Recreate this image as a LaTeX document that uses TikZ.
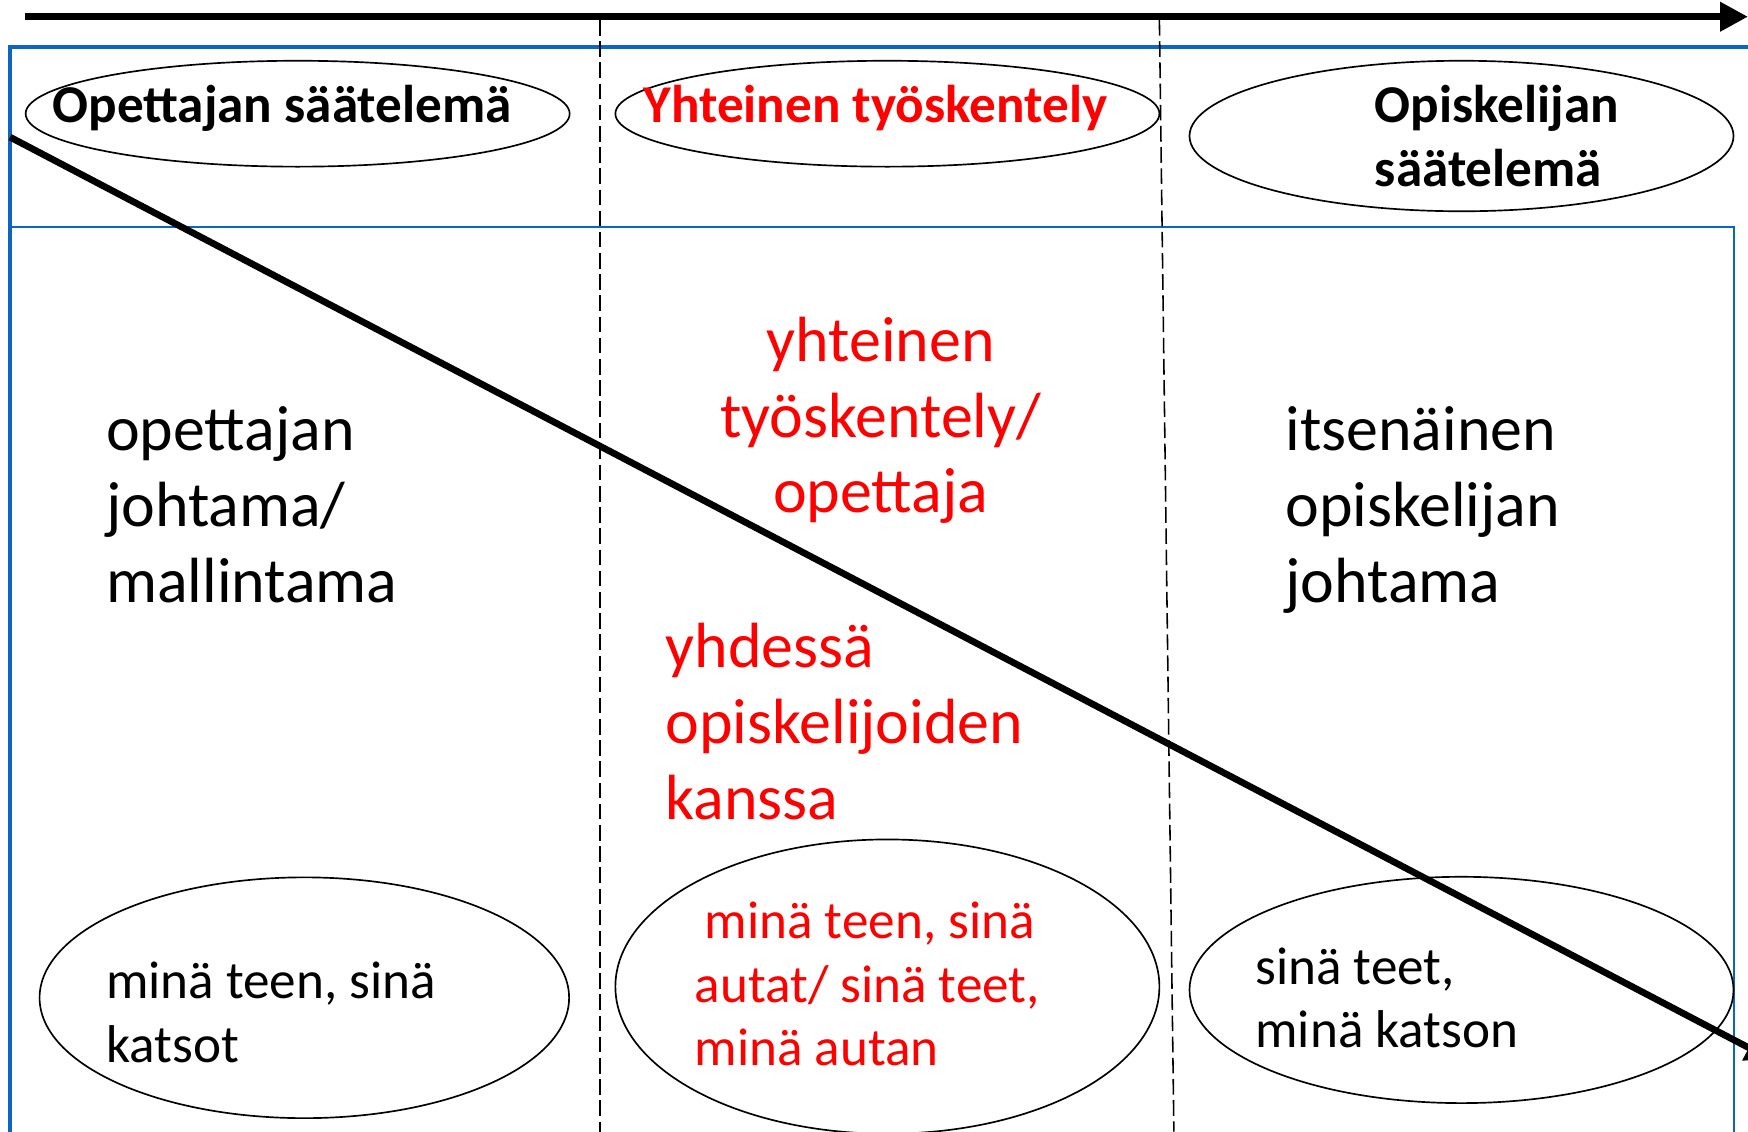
\documentclass[tikz,border=0pt]{standalone}
\usepackage{fontspec}
\setmainfont{Carlito}
\usetikzlibrary{shapes.geometric,arrows.meta}
\definecolor{frameblue}{RGB}{12,100,196}
\definecolor{txtred}{RGB}{255,0,0}
\tikzset{
  oval/.style={draw=black, line width=1.5pt, ellipse, inner sep=0pt},
  bigtxt/.style={font=\fontsize{57.3}{68}\selectfont, inner sep=0pt, align=left, anchor=base west},
  smalltxt/.style={font=\fontsize{47.7}{57}\selectfont, inner sep=0pt, align=left, anchor=base west},
  headtxt/.style={font=\fontsize{47.7}{57}\selectfont\bfseries, inner sep=0pt, align=left, anchor=base west},
  divider/.style={line width=1.4pt, dash pattern=on 14pt off 5pt},
  bluethick/.style={draw=frameblue, line width=3.6pt},
  bluethin/.style={draw=frameblue, line width=1.8pt},
}
\begin{document}
\begin{tikzpicture}[x=1pt,y=-1pt]
\clip (0,0) rectangle (1568,1015);
\fill[white] (0,0) rectangle (1568,1015);

% frame
\coordinate (ftr) at (1580,42);
\coordinate (ftl) at (9,42);
\coordinate (fbl) at (9,1030);
\draw[bluethick] (ftr) -- (ftl) -- (fbl);
\coordinate (hl) at (9,204);
\coordinate (hr) at (1555,204);
\coordinate (hb) at (1555,1030);
\draw[bluethin] (hl) -- (hr) -- (hb);

% dividers
\coordinate (d1t) at (538,18);
\coordinate (d1b) at (538,1015);
\coordinate (d2t) at (1040,18);
\coordinate (d2b) at (1053,1015);
\draw[divider] (d1t) -- (d1b);
\draw[divider] (d2t) -- (d2b);

% top arrow
\coordinate (as) at (22,15);
\coordinate (ae) at (1568,15);
\draw[line width=6.6pt, -{Triangle[length=25pt,width=25pt]}] (as) -- (ae);

% ellipses
\node[oval, minimum width=488pt, minimum height=95pt] (e1) at (267,102) {};
\node[oval, minimum width=488pt, minimum height=95pt] (e2) at (796,102) {};
\node[oval, minimum width=488pt, minimum height=135pt] (e3) at (1311,122) {};
\node[oval, minimum width=475pt, minimum height=216pt] (b1) at (273,895) {};
\node[oval, minimum width=488pt, minimum height=264pt] (b2) at (796,885) {};
\node[oval, minimum width=488pt, minimum height=203pt] (b3) at (1311,888) {};

% diagonal
\coordinate (ds) at (9,123);
\coordinate (de) at (1590,951);
\draw[line width=6pt, -{Triangle[length=24pt,width=24pt]}] (ds) -- (de);

% header texts
\node[headtxt] (h1) at (47,110) {Opettajan säätelemä};
\node[headtxt, text=txtred] (h2) at (577,110) {Yhteinen työskentely};
\node[headtxt] (h3) at (1233,167) {Opiskelijan\\säätelemä};

% main texts
\node[bigtxt] (t1) at (95,540) {opettajan\\johtama/\\mallintama};
\node[bigtxt, text=txtred, align=center, anchor=base] (t2) at (790,460) {yhteinen\\työskentely/\\opettaja};
\node[bigtxt] (t3) at (1153,540) {itsenäinen\\opiskelijan\\johtama};
\node[bigtxt, text=txtred] (t4) at (597,735) {yhdessä\\opiskelijoiden\\kanssa};

% bottom texts
\node[smalltxt] (s1) at (95,953) {minä teen, sinä\\katsot};
\node[smalltxt, text=txtred] (s2) at (623,956) {\hspace*{9pt}minä teen, sinä\\autat/ sinä teet,\\minä autan};
\node[smalltxt] (s3) at (1126,940) {sinä teet,\\minä katson};
\end{tikzpicture}
\end{document}
